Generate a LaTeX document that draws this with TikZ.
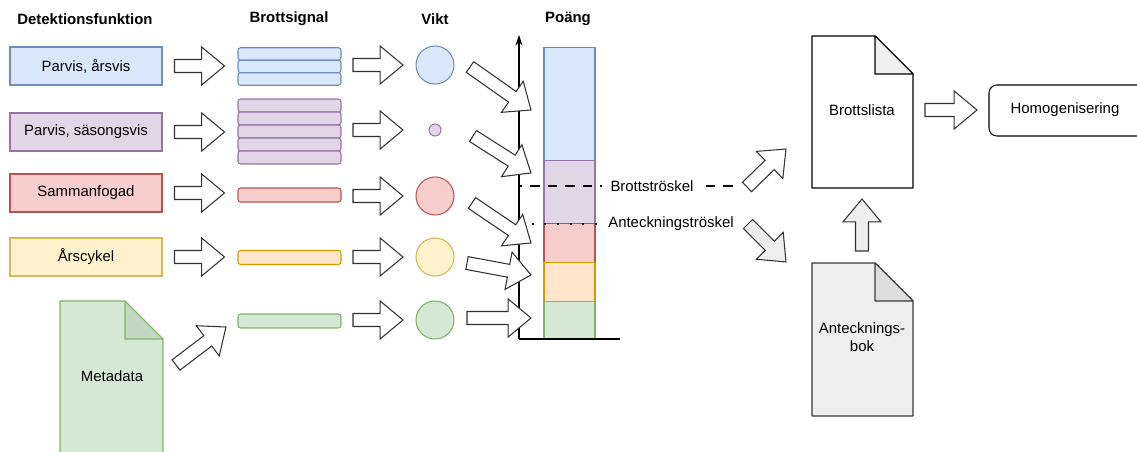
\documentclass[tikz,border=0pt]{standalone}
\usepackage{fontspec}
\setmainfont{Liberation Sans}
\usetikzlibrary{calc,arrows.meta,positioning}

\definecolor{bluefill}{HTML}{DAE8FC}
\definecolor{bluedraw}{HTML}{6C8EBF}
\definecolor{purpfill}{HTML}{E1D5E7}
\definecolor{purpdraw}{HTML}{9673A6}
\definecolor{redfill}{HTML}{F8CECC}
\definecolor{reddraw}{HTML}{B85450}
\definecolor{yelfill}{HTML}{FFF2CC}
\definecolor{yeldraw}{HTML}{D6B656}
\definecolor{orafill}{HTML}{FFE6CC}
\definecolor{oradraw}{HTML}{D79B00}
\definecolor{grnfill}{HTML}{D5E8D4}
\definecolor{grndraw}{HTML}{82B366}
\definecolor{grnfold}{HTML}{C3D6C2}
\definecolor{grayfill}{HTML}{EEEEEE}
\definecolor{grayfold}{HTML}{DDDDDD}
\definecolor{graydraw}{HTML}{36393D}

\tikzset{
  every node/.style={font=\fontsize{8.5}{10}\selectfont},
  head/.style={font=\fontsize{8.5}{10}\selectfont\bfseries},
  detbox/.style={draw, line width=0.6pt, minimum width=3.04cm, minimum height=0.76cm, inner sep=0pt},
  sigbar/.style={draw, line width=0.6pt, rounded corners=1.5pt, minimum width=2.06cm, minimum height=0.28cm, inner sep=0pt},
  wcirc/.style={circle, draw, line width=0.6pt, minimum size=0.76cm, inner sep=0pt},
  seg/.style={draw, line width=0.6pt, minimum width=1.02cm, anchor=north west, inner sep=0pt, outer sep=0pt},
  docline/.style={line width=0.6pt, line join=round},
  barrow/.style={draw=black!80, line width=0.6pt, line join=miter},
  thresh/.style={line width=1.4pt, dash pattern=on 5.5pt off 4.5pt},
  notethresh/.style={line width=1.3pt, dash pattern=on 1.2pt off 6pt},
  thrlabel/.style={fill=white, inner xsep=5pt, inner ysep=1pt},
}

% block arrow from #2 to #3
\newcommand\blockarrow[3][white]{%
  \draw[barrow, fill=#1] let \p1=($(#3)-(#2)$), \n1={atan2(\y1,\x1)}, \n2={veclen(\x1,\y1)} in
    [shift={(#2)}, rotate=\n1]
    (0pt,-3.7pt) -- ({\n2*1pt-13pt},-3.7pt) -- ({\n2*1pt-13pt},-10.8pt) -- ({\n2*1pt},0pt)
    -- ({\n2*1pt-13pt},10.8pt) -- ({\n2*1pt-13pt},3.7pt) -- (0pt,3.7pt) -- cycle;}

\begin{document}
\begin{tikzpicture}[x=0.02cm, y=-0.02cm]
\useasboundingbox (0,0) rectangle (1137,452);

% headers
\node[head] (hdet) at (85,19) {Detektionsfunktion};
\node[head] (hsig) at (289,19) {Brottsignal};
\node[head] (hvikt) at (435,19) {Vikt};
\node[head] (hpoang) at (568,19) {Poäng};

% detection functions
\node[detbox, fill=bluefill, draw=bluedraw] (det1) at (86,66) {Parvis, årsvis};
\node[detbox, fill=purpfill, draw=purpdraw] (det2) at (86,132) {Parvis, säsongsvis};
\node[detbox, fill=redfill, draw=reddraw] (det3) at (86,193) {Sammanfogad};
\node[detbox, fill=yelfill, draw=yeldraw] (det4) at (86,257) {Årscykel};

% metadata document
\draw[docline, fill=grnfill, draw=grndraw] (60,301) -- (125,301) -- (163,339) -- (163,460) -- (60,460) -- cycle;
\draw[docline, fill=grnfold, draw=grndraw] (125,301) -- (125,339) -- (163,339) -- cycle;
\node (meta) at (112,376) {Metadata};

% break signals
\foreach \y [count=\k] in {54,66.5,79}
  \node[sigbar, fill=bluefill, draw=bluedraw, minimum height=0.25cm] (s1\k) at (289.5,\y) {};
\foreach \y [count=\k] in {105.5,118.5,131.5,144.5,157.5}
  \node[sigbar, fill=purpfill, draw=purpdraw, minimum height=0.26cm] (s2\k) at (289.5,\y) {};
\node[sigbar, fill=redfill, draw=reddraw] (s3) at (289.5,195) {};
\node[sigbar, fill=orafill, draw=oradraw] (s4) at (289.5,257.5) {};
\node[sigbar, fill=grnfill, draw=grndraw] (s5) at (289.5,321) {};

% weights
\node[wcirc, fill=bluefill, draw=bluedraw] (w1) at (435,65) {};
\node[wcirc, fill=purpfill, draw=purpdraw, minimum size=0.24cm] (w2) at (435,130) {};
\node[wcirc, fill=redfill, draw=reddraw] (w3) at (435,196) {};
\node[wcirc, fill=yelfill, draw=yeldraw] (w4) at (435,257) {};
\node[wcirc, fill=grnfill, draw=grndraw] (w5) at (435,320) {};

% score bar
\node[seg, fill=bluefill, draw=bluedraw, minimum height=2.26cm] (p1) at (544,47.7) {};
\node[seg, fill=purpfill, draw=purpdraw, minimum height=1.26cm, below=0pt of p1] (p2) {};
\node[seg, fill=redfill, draw=reddraw, minimum height=0.78cm, below=0pt of p2] (p3) {};
\node[seg, fill=orafill, draw=oradraw, minimum height=0.78cm, below=0pt of p3] (p4) {};
\node[seg, fill=grnfill, draw=grndraw, minimum height=0.74cm, below=0pt of p4] (p5) {};

% axes
\coordinate (ax0) at (519,339);
\coordinate (axtop) at (519,35);
\coordinate (axend) at (620,339);
\draw[line width=0.7pt, -{Stealth[length=6pt,width=4pt]}] (ax0) -- (axtop);
\draw[line width=0.7pt] (ax0) -- (axend);

% thresholds
\coordinate (bt0) at (519,186);
\coordinate (bt1) at (733,186);
\coordinate (at0) at (519,224);
\coordinate (at1) at (733,224);
\draw[thresh] (bt1) -- (bt0);
\draw[notethresh] (at0) -- (at1);
\node[thrlabel] (bthr) at (652,186) {Brottströskel};
\node[thrlabel] (athr) at (671,224) {Anteckningströskel};

% arrows into signals and weights
\foreach \i in {1,2,3,4} {
  \coordinate (fa\i) at ($(det\i.east)+(12,0)$);
  \coordinate (fb\i) at ($(det\i.east)+(62,0)$);
  \blockarrow{fa\i}{fb\i}
}
\foreach \i in {1,...,5} {
  \coordinate (ga\i) at ($(w\i.center)+(-82,0)$);
  \coordinate (gb\i) at ($(w\i.center)+(-32,0)$);
  \blockarrow{ga\i}{gb\i}
}
\coordinate (ma) at (176,365);
\coordinate (mb) at (226,327);
\blockarrow{ma}{mb}

% arrows into the score
\coordinate (va1) at (470,67);  \coordinate (vb1) at (531,110);
\coordinate (va2) at (473,136); \coordinate (vb2) at (531,173);
\coordinate (va3) at (472,203); \coordinate (vb3) at (531,243);
\coordinate (va4) at (467,263); \coordinate (vb4) at (531,275);
\coordinate (va5) at (467,318); \coordinate (vb5) at (531,318);
\foreach \i in {1,...,5} {\blockarrow{va\i}{vb\i}}

% lists
\draw[docline, fill=white, draw=black] (812,36) -- (875,36) -- (913,74) -- (913,188) -- (812,188) -- cycle;
\draw[docline, fill=grayfill, draw=black] (875,36) -- (875,74) -- (913,74) -- cycle;
\node (blist) at (862,110) {Brottslista};

\draw[docline, fill=grayfill, draw=graydraw] (812,263) -- (875,263) -- (913,301) -- (913,416) -- (812,416) -- cycle;
\draw[docline, fill=grayfold, draw=graydraw] (875,263) -- (875,301) -- (913,301) -- cycle;
\node[align=center] (abok) at (862,337) {Antecknings-\\bok};

\node[draw, line width=0.6pt, rounded corners=4.5pt, minimum width=3.12cm, minimum height=1.02cm] (homog) at (1067,110.5) {};
\node (homogtxt) at (1065,110) {Homogenisering};

\coordinate (ra) at (747,187); \coordinate (rb) at (786,149);
\coordinate (na) at (748,224); \coordinate (nb) at (786,262);
\coordinate (ua) at (862,251); \coordinate (ub) at (862,199);
\coordinate (ha) at (925,110); \coordinate (hb) at (977,110);
\blockarrow{ra}{rb}
\blockarrow[grayfill]{na}{nb}
\blockarrow[grayfill]{ua}{ub}
\blockarrow{ha}{hb}
\end{tikzpicture}
\end{document}
